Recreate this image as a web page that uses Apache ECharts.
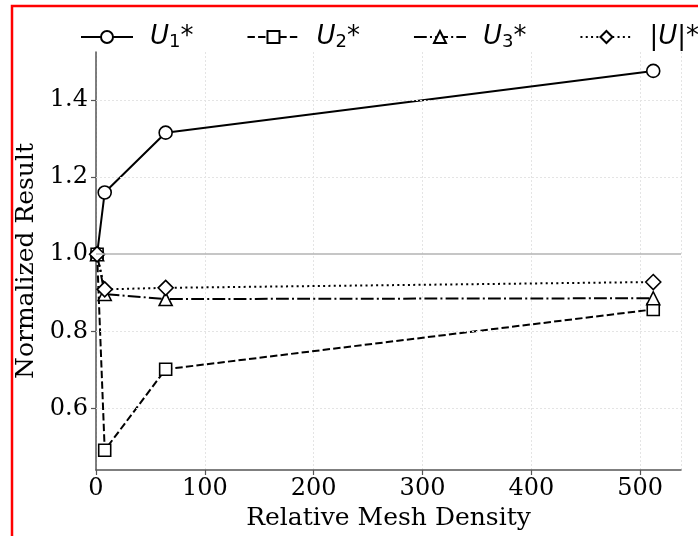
<!DOCTYPE html>
<html>
<head>
<meta charset="utf-8">
<script src="https://cdn.jsdelivr.net/npm/echarts@6/dist/echarts.min.js"></script>
<style>
  html, body { margin: 0; background: #fff; }
  #chart { width: 698px; height: 536px; }
</style>
</head>
<body>
<div id="chart"></div>
<script>
// mesh densities and normalized results
const meshDensity = [1, 8, 64, 512]
const u1 = [1.0, 1.16, 1.315, 1.475]
const u2 = [1.0, 0.492, 0.702, 0.857]
const u3 = [1.0, 0.897, 0.884, 0.886]
const uMag = [1.0, 0.909, 0.913, 0.928]
const yTicks = [0.6, 0.8, 1.0, 1.2, 1.4]
const refLine = 1.0

const serif = 'DejaVu Serif'
const chart = echarts.init(document.getElementById('chart'))

function pairs(vals) {
  return meshDensity.map((x, i) => [x, vals[i]])
}

function makeSeries(name, vals, symbol, size, dash) {
  return {
    name: name,
    type: 'line',
    data: pairs(vals),
    symbol: symbol,
    symbolSize: size,
    showAllSymbol: true,
    lineStyle: { color: '#000', width: 2, type: dash },
    itemStyle: { color: '#fff', borderColor: '#000', borderWidth: 1.6 },
    emphasis: { disabled: true },
    z: 3
  }
}

const option = {
  animation: false,
  grid: { left: 96, top: 52, right: 17, bottom: 66 },
  graphic: [{
    type: 'rect',
    shape: { x: 12, y: 6, width: 720, height: 600 },
    style: { fill: 'none', stroke: '#ff0000', lineWidth: 2.5 },
    silent: true
  }],
  legend: {
    top: 19,
    left: 75,
    width: 660,
    itemWidth: 52,
    itemHeight: 15,
    itemGap: 53,
    data: ['U1', 'U2', 'U3', 'Umag'],
    formatter: function (name) {
      if (name === 'Umag') return '{t||}{u|U}{t||*}'
      return '{u|U}{s|' + name.slice(1) + '}{t|*}'
    },
    textStyle: {
      rich: {
        u: { fontFamily: 'DejaVu Sans', fontStyle: 'italic', fontSize: 26, color: '#000' },
        s: { fontFamily: 'DejaVu Sans', fontSize: 18, color: '#000', padding: [11, 0, 0, 0] },
        t: { fontFamily: 'DejaVu Sans', fontSize: 26, color: '#000' }
      },
      padding: [0, 0, 0, 12]
    }
  },
  xAxis: {
    type: 'value',
    min: 0,
    max: 537.5,
    interval: 100,
    name: 'Relative Mesh Density',
    nameLocation: 'middle',
    nameGap: 35,
    nameTextStyle: { fontFamily: serif, fontSize: 25, color: '#000' },
    axisLine: { lineStyle: { color: '#555', width: 1.5 } },
    axisTick: { show: true, length: 5, lineStyle: { color: '#555', width: 1.2 } },
    axisLabel: { fontFamily: serif, fontSize: 24, color: '#000', margin: 7, showMaxLabel: false },
    splitLine: { show: true, lineStyle: { color: '#e4e4e4', type: [2, 2], width: 1 } }
  },
  yAxis: {
    type: 'value',
    min: 0.441,
    max: 1.524,
    name: 'Normalized Result',
    nameLocation: 'middle',
    nameGap: 56,
    nameTextStyle: { fontFamily: serif, fontSize: 25, color: '#000' },
    axisLine: { show: true, lineStyle: { color: '#555', width: 1.5 } },
    axisTick: { show: true, length: 5, customValues: yTicks, lineStyle: { color: '#555', width: 1.2 } },
    axisLabel: {
      fontFamily: serif, fontSize: 24, color: '#000', margin: 8,
      customValues: yTicks,
      formatter: v => v.toFixed(1)
    },
    splitLine: { show: false }
  },
  series: [
    {
      name: 'grid',
      type: 'line',
      data: [],
      silent: true,
      markLine: {
        silent: true,
        symbol: 'none',
        label: { show: false },
        animation: false,
        data: yTicks.map(v => ({
          yAxis: v,
          lineStyle: v === refLine
            ? { color: '#b3b3b3', type: 'solid', width: 1.5 }
            : { color: '#e4e4e4', type: [2, 2], width: 1 }
        }))
      },
      z: 1
    },
    makeSeries('U1', u1, 'circle', 13, 'solid'),
    makeSeries('U2', u2, 'rect', 12, [7.4, 3.2]),
    makeSeries('U3', u3, 'triangle', 13, [12.8, 3.2, 2, 3.2]),
    makeSeries('Umag', uMag, 'diamond', 15, [2, 3.3])
  ]
}

chart.setOption(option)
</script>
</body>
</html>
